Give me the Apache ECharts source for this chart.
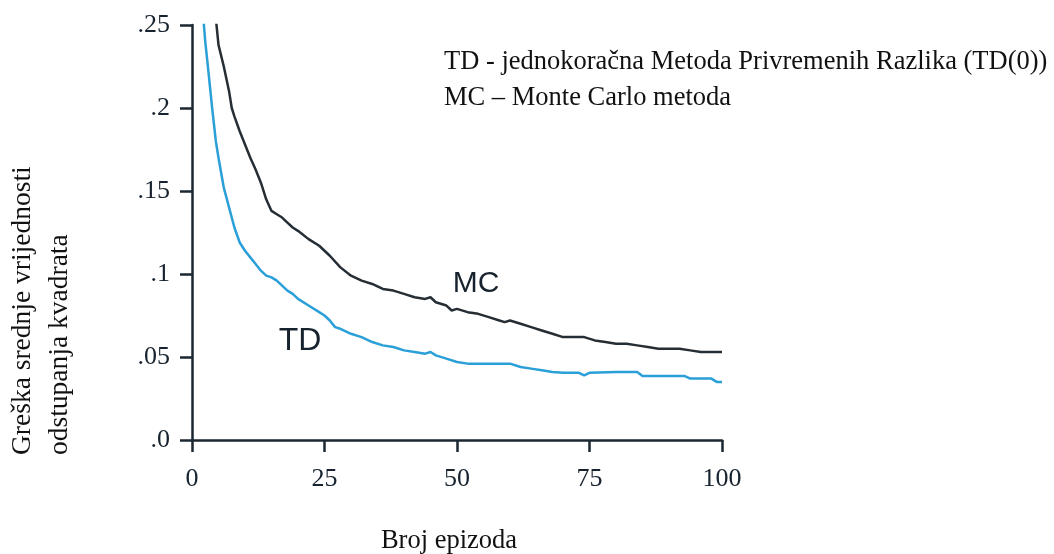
<!DOCTYPE html>
<html>
<head>
<meta charset="utf-8">
<script src="https://cdn.jsdelivr.net/npm/echarts@6/dist/echarts.min.js"></script>
<style>html,body{margin:0;padding:0;background:#fff}#c{width:1054px;height:554px}</style>
</head>
<body>
<div id="c"></div>
<script>
// Episodes (x) and error values (y)
const mcEpisodes = [4, 5, 6, 7, 7.5, 8, 9, 10, 11, 12, 13, 14, 15, 16, 17, 18, 19, 20, 22, 24, 26, 28, 30, 32, 34, 36, 38, 40, 42, 44, 45, 46, 48, 49, 50, 52, 54, 56, 58, 59, 60, 62, 64, 66, 68, 70, 72, 74, 76, 78, 80, 82, 84, 86, 88, 90, 92, 94, 96, 98, 100];
const mcValues   = [0.27, 0.238, 0.225, 0.21, 0.2, 0.195, 0.186, 0.178, 0.17, 0.163, 0.155, 0.145, 0.138, 0.136, 0.134, 0.131, 0.128, 0.126, 0.121, 0.117, 0.111, 0.104, 0.099, 0.096, 0.094, 0.091, 0.090, 0.088, 0.086, 0.085, 0.086, 0.083, 0.081, 0.078, 0.079, 0.077, 0.076, 0.074, 0.072, 0.071, 0.072, 0.070, 0.068, 0.066, 0.064, 0.062, 0.062, 0.062, 0.060, 0.059, 0.058, 0.058, 0.057, 0.056, 0.055, 0.055, 0.055, 0.054, 0.053, 0.053, 0.053];

const tdEpisodes = [2, 2.5, 3, 3.8, 4.5, 5, 6, 7, 8, 9, 10, 11, 12, 13, 14, 15, 16, 17, 18, 19, 20, 22, 24, 25, 26, 27, 28, 30, 32, 34, 36, 38, 40, 42, 44, 45, 46, 48, 50, 52, 55, 58, 60, 62, 64, 66, 68, 70, 73, 74, 75, 80, 84, 85, 90, 93, 94, 98, 99, 100];
const tdValues   = [0.26, 0.24, 0.225, 0.2, 0.18, 0.17, 0.152, 0.14, 0.128, 0.119, 0.114, 0.110, 0.106, 0.102, 0.099, 0.098, 0.096, 0.093, 0.090, 0.088, 0.085, 0.081, 0.077, 0.075, 0.072, 0.068, 0.067, 0.064, 0.062, 0.059, 0.057, 0.056, 0.054, 0.053, 0.052, 0.053, 0.051, 0.049, 0.047, 0.046, 0.046, 0.046, 0.046, 0.044, 0.043, 0.042, 0.041, 0.0405, 0.0405, 0.039, 0.0405, 0.041, 0.041, 0.0385, 0.0385, 0.0385, 0.037, 0.037, 0.035, 0.035];

const xTickLabels = ['0', '25', '50', '75', '100'];
const yTickLabels = ['.0', '.05', '.1', '.15', '.2', '.25'];

const seriesNames = ['MC', 'TD'];
const noteLines = ['TD - jednokoračna Metoda Privremenih Razlika (TD(0))', 'MC – Monte Carlo metoda'];
const xTitle = 'Broj epizoda';
const yTitleLines = ['Greška srednje vrijednosti', 'odstupanja kvadrata'];

const serif = "'Liberation Serif', 'DejaVu Serif', serif";
const sans = "'Liberation Sans', Arial, sans-serif";
const axisColor = '#1b2731';
const labelColor = '#17232e';

const chart = echarts.init(document.getElementById('c'), null, {renderer: 'canvas'});
const zip = (xs, ys) => xs.map((x, i) => [x, ys[i]]);

chart.setOption({
  animation: false,
  backgroundColor: '#ffffff',
  grid: {left: 192, right: 332, top: 25, bottom: 114, containLabel: false},
  xAxis: {
    type: 'value', min: 0, max: 100, interval: 25,
    axisLine: {show: true, onZero: false, lineStyle: {color: axisColor, width: 2.5}},
    axisTick: {show: true, length: 12, inside: false, lineStyle: {color: axisColor, width: 2.5}},
    axisLabel: {margin: 26, color: labelColor, fontFamily: serif, fontSize: 26,
      formatter: v => xTickLabels[Math.round(v / 25)]},
    splitLine: {show: false}
  },
  yAxis: {
    type: 'value', min: 0, max: 0.25, interval: 0.05,
    axisLine: {show: true, lineStyle: {color: axisColor, width: 2.5}},
    axisTick: {show: true, length: 12, inside: false, lineStyle: {color: axisColor, width: 2.5}},
    axisLabel: {margin: 22, color: labelColor, fontFamily: serif, fontSize: 26,
      formatter: v => yTickLabels[Math.round(v / 0.05)]},
    splitLine: {show: false}
  },
  series: [
    {name: seriesNames[0], type: 'line', data: zip(mcEpisodes, mcValues), showSymbol: false, symbol: 'none',
      clip: true, lineStyle: {color: '#262e35', width: 2.5}, itemStyle: {color: '#262e35'}},
    {name: seriesNames[1], type: 'line', data: zip(tdEpisodes, tdValues), showSymbol: false, symbol: 'none',
      clip: true, lineStyle: {color: '#2b9fd8', width: 2.5}, itemStyle: {color: '#2b9fd8'}}
  ],
  graphic: [
    {type: 'text', x: 444, y: 62, style: {text: noteLines[0], font: '26.5px ' + serif, fill: '#111', align: 'left', verticalAlign: 'middle'}},
    {type: 'text', x: 444, y: 98, style: {text: noteLines[1], font: '26.5px ' + serif, fill: '#111', align: 'left', verticalAlign: 'middle'}},
    {type: 'text', x: 449, y: 541, style: {text: xTitle, font: '26.5px ' + serif, fill: '#111', align: 'center', verticalAlign: 'middle'}},
    {type: 'text', x: 23, y: 455, rotation: Math.PI / 2, style: {text: yTitleLines[0], font: '27.5px ' + serif, fill: '#111', align: 'left', verticalAlign: 'middle'}},
    {type: 'text', x: 60, y: 455, rotation: Math.PI / 2, style: {text: yTitleLines[1], font: '27.5px ' + serif, fill: '#111', align: 'left', verticalAlign: 'middle'}},
    {type: 'text', x: 476, y: 284, style: {text: seriesNames[0], font: '30px ' + sans, fill: '#16222e', align: 'center', verticalAlign: 'middle'}},
    {type: 'text', x: 300, y: 341, style: {text: seriesNames[1], font: '32px ' + sans, fill: '#16222e', align: 'center', verticalAlign: 'middle'}}
  ]
});
</script>
</body>
</html>
